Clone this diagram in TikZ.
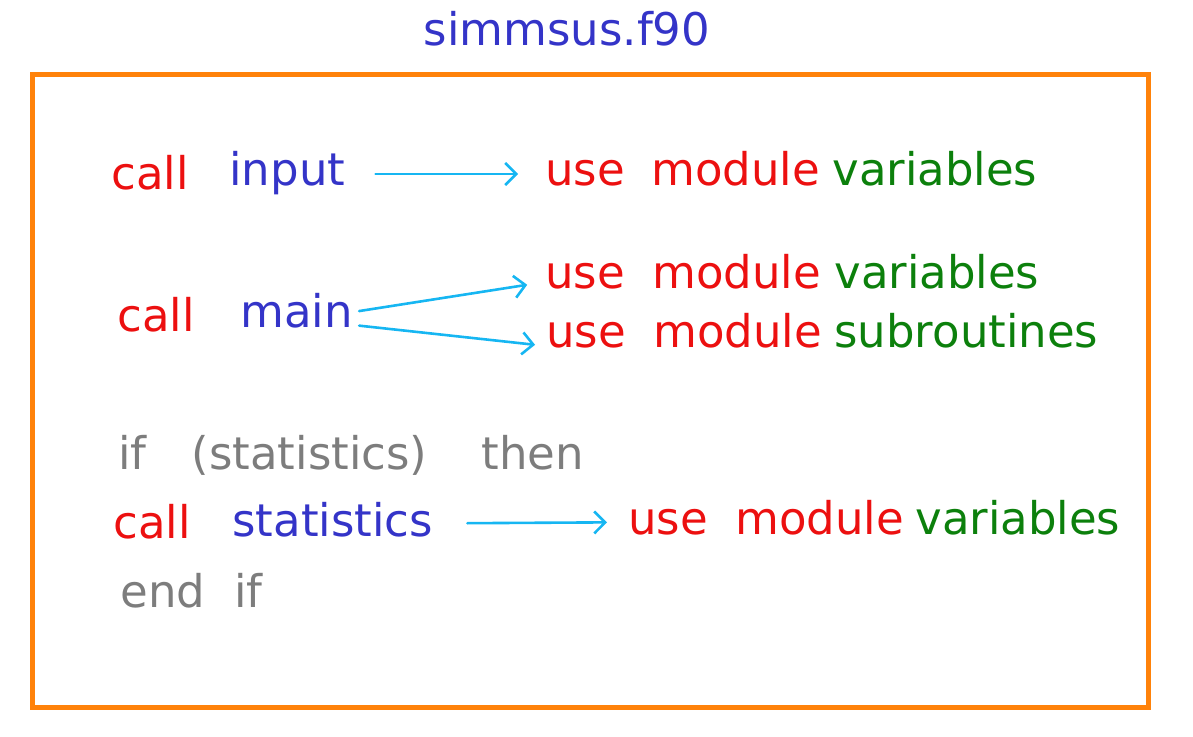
\documentclass[tikz,border=0pt]{standalone}
\usepackage{fontspec}
\setmainfont{DejaVu Sans}
\usetikzlibrary{arrows.meta}
\definecolor{kwred}{RGB}{236,16,16}
\definecolor{subblue}{RGB}{52,52,200}
\definecolor{modgreen}{RGB}{12,128,12}
\definecolor{condgray}{RGB}{125,125,125}
\definecolor{linkcyan}{RGB}{22,182,242}
\definecolor{frameorange}{RGB}{255,130,10}
\tikzset{
>={Straight Barb[length=5.5pt,width=11pt]},
every node/.style={inner sep=0pt, anchor=base west,
    font=\fontsize{22.5}{27}\selectfont, text height=17pt, text depth=5pt},
}

\begin{document}
\begin{tikzpicture}
    [x=0.5pt, y=-0.5pt,
    kw/.style={text=kwred},
    sub/.style={text=subblue},
    mod/.style={text=modgreen},
    cond/.style={text=condgray},
    link/.style={->, draw=linkcyan, line width=1.3pt, line cap=round},
    frame/.style={draw=frameorange, line width=2.5pt}
    ]

    \useasboundingbox (0,0) rectangle (1193,737);

    \node [sub, anchor=base] (file) at (567,46) {simmsus.f90};
    \draw [frame] (32,75) rectangle (1148,707);

    % call input
    \node [kw] (callA) at (111,190) {call};
    \node [sub] (input) at (229,186) {input};
    \node [kw] (useA) at (545,186) {use};
    \node [kw] (modA) at (651,186) {module};
    \node [mod] (varA) at (832,186) {variables};

    % call main
    \node [kw] (callB) at (117,332) {call};
    \node [sub] (main) at (240,328) {main};
    \node [kw] (useB) at (545,289) {use};
    \node [kw] (modB) at (652,289) {module};
    \node [mod] (varB) at (834,289) {variables};
    \node [kw] (useC) at (546,348) {use};
    \node [kw] (modC) at (653,348) {module};
    \node [mod] (subC) at (834,348) {subroutines};

    % if block
    \node [cond] (ifst) at (118,469) {if\hspace{1em}(statistics)\hspace{1.2em}then};
    \node [kw] (callD) at (113,538) {call};
    \node [sub] (stat) at (232,536) {statistics};
    \node [kw] (useD) at (628,534) {use};
    \node [kw] (modD) at (735,534) {module};
    \node [mod] (varD) at (915,534) {variables};
    \node [cond] (endif) at (120,607) {end\hspace{0.65em}if};

    \draw [link, shorten <=15pt, shorten >=13.5pt] (input) -- (useA);
    \draw [link, shorten <=3pt, shorten >=9pt] ([yshift=2pt]main.east) -- ([yshift=-2.5pt]useB.west);
    \draw [link, shorten <=3pt, shorten >=5.5pt] ([yshift=-4.5pt]main.east) -- ([yshift=-5pt]useC.west);
    \draw [link, shorten <=17pt, shorten >=10.5pt] (stat) -- (useD);

\end{tikzpicture}
\end{document}
